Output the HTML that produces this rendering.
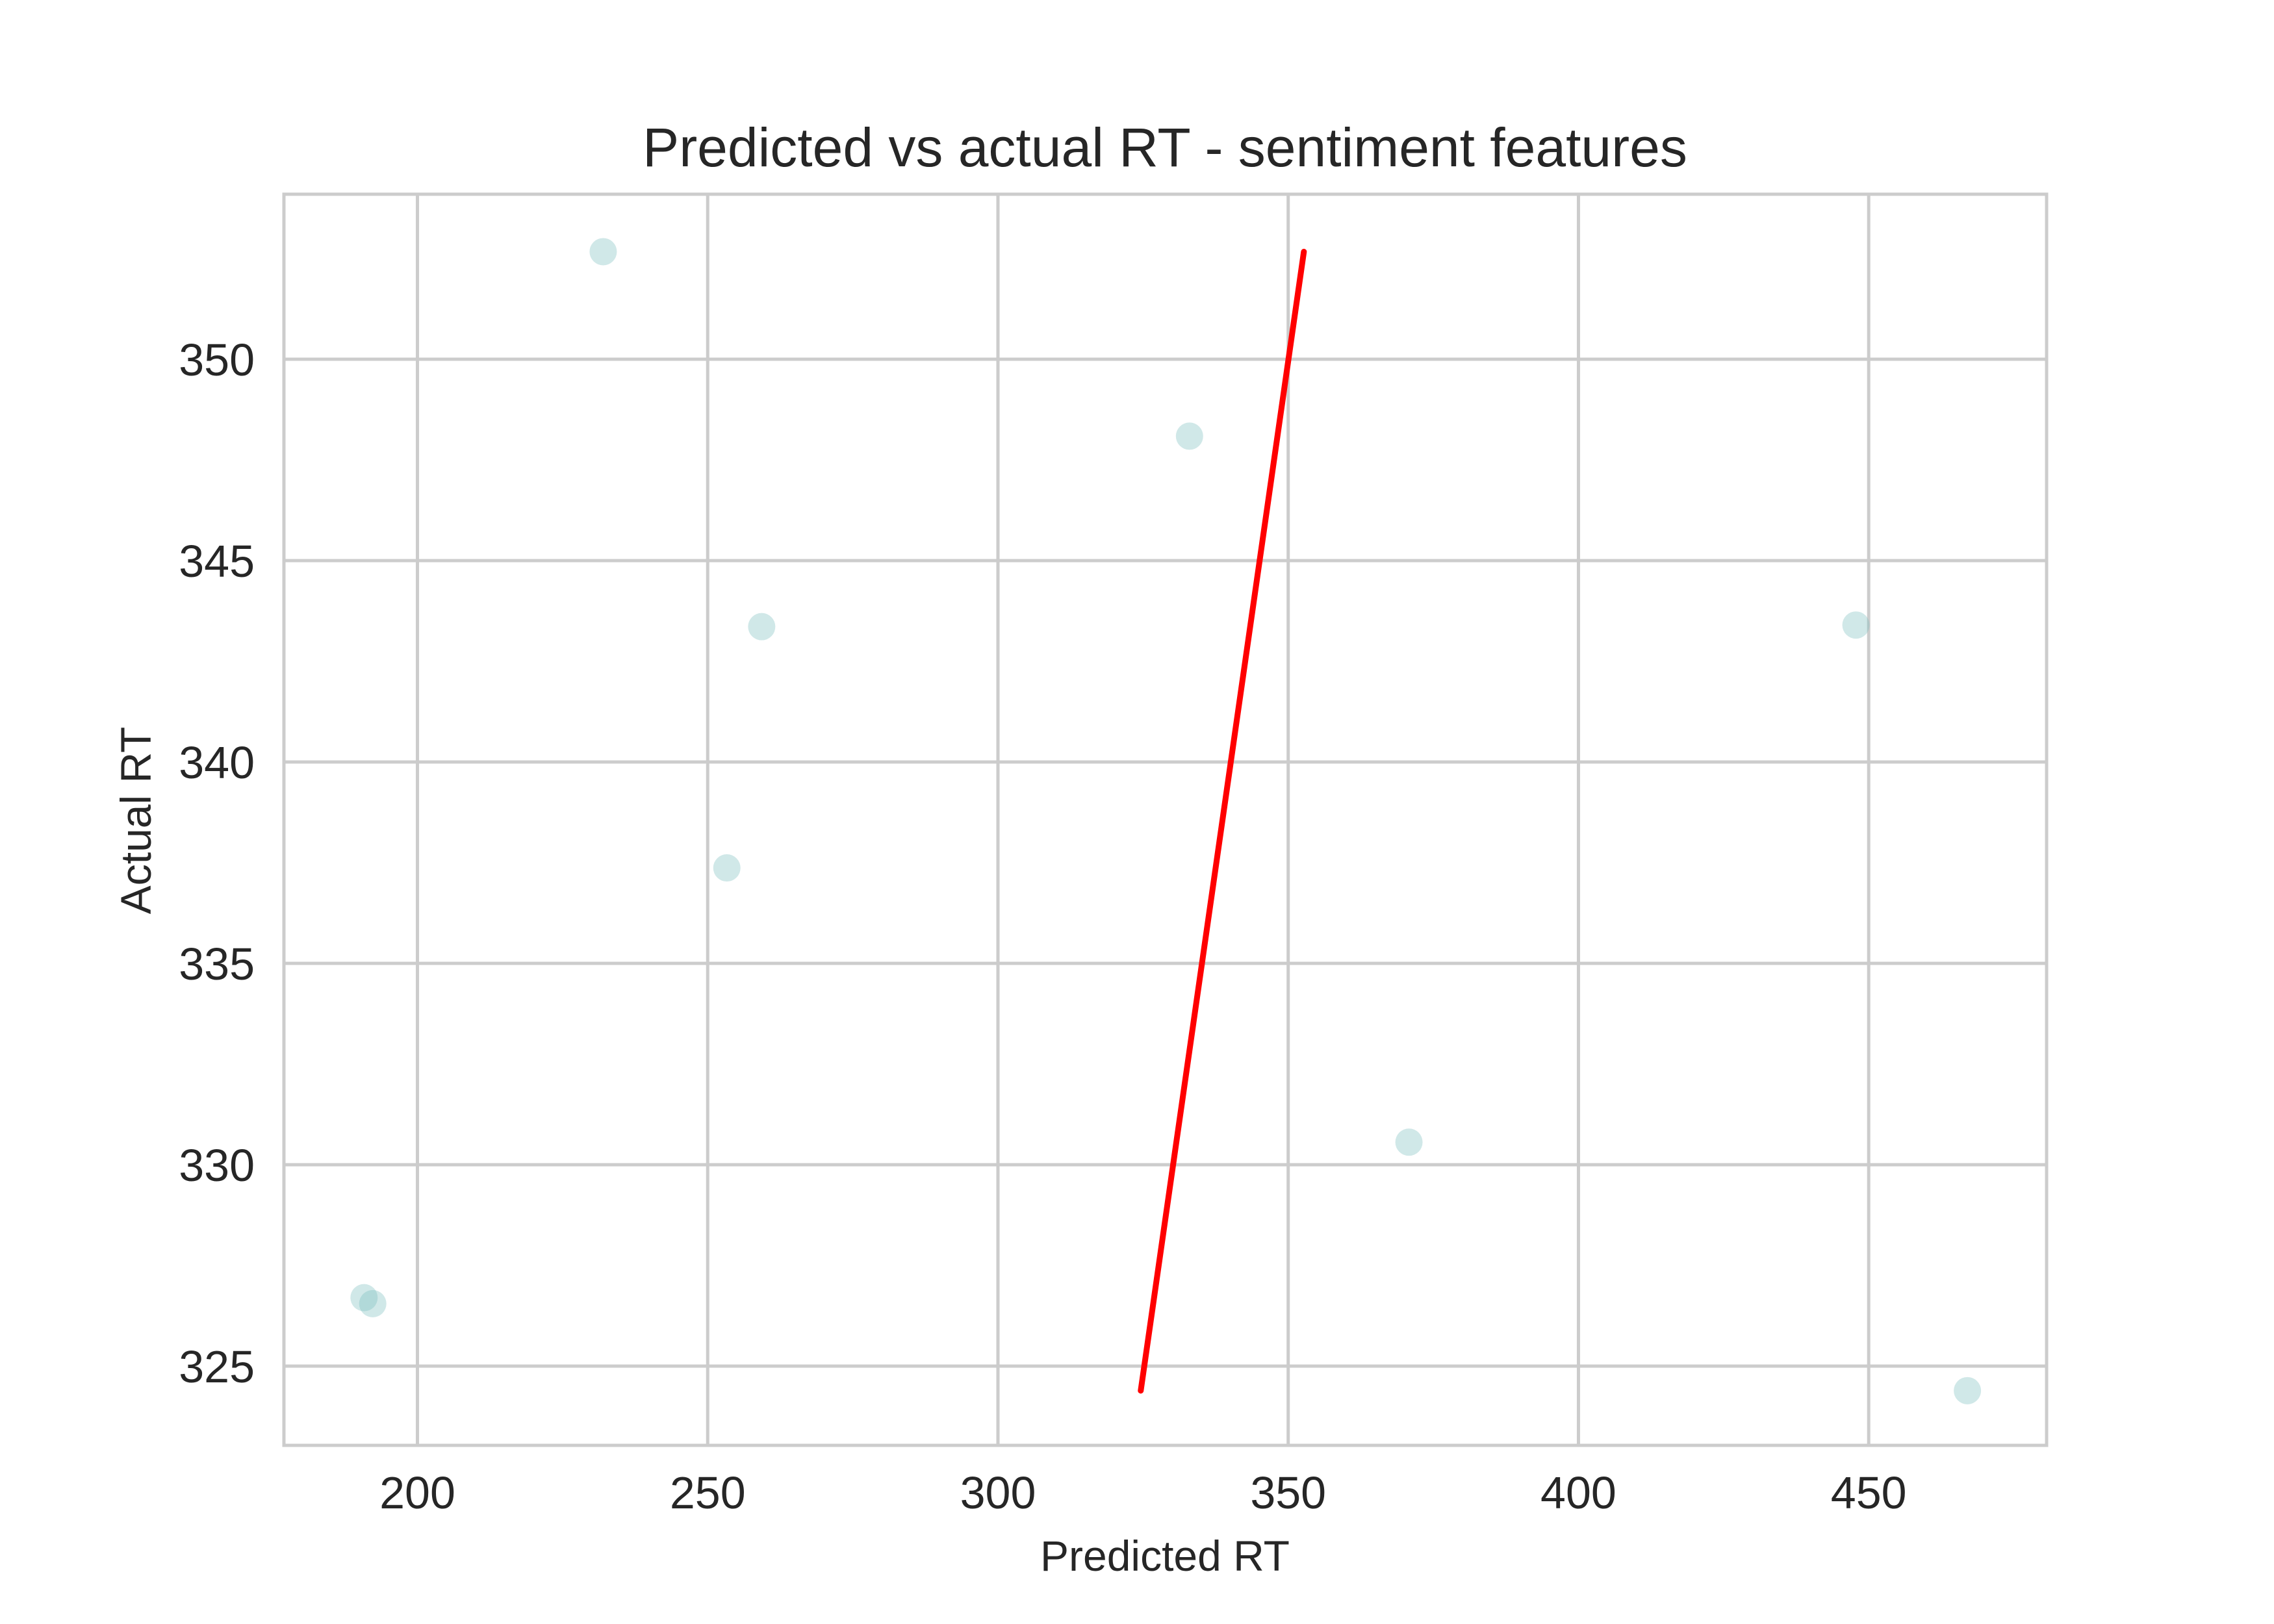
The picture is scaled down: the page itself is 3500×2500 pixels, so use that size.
<!DOCTYPE html>
<html><head><meta charset="utf-8"><style>
html,body{margin:0;padding:0;background:#fff;}
svg{display:block;font-family:"Liberation Sans",Arial,sans-serif;}
</style></head><body>
<svg id="chart" width="3500" height="2500" viewBox="0 0 3500 2500">
<rect x="0" y="0" width="3500" height="2500" fill="#fff"/>
<g id="grid"></g>
<g id="spines"></g>
<g id="ticks"></g>
<g id="marks"></g>
<g id="fit"></g>
<text x="1793" y="256" text-anchor="middle" font-size="84" fill="#262626">Predicted vs actual RT - sentiment features</text>
<text x="1793" y="2418" text-anchor="middle" font-size="66" fill="#262626">Predicted RT</text>
<text x="0" y="0" transform="translate(232,1263) rotate(-90)" text-anchor="middle" font-size="66" fill="#262626">Actual RT</text>
</svg>
<script>
const predicted = [232, 333, 259.3, 447.8, 253.3, 370.8, 190.8, 192.3, 467];
const actual = [352.67, 348.09, 343.36, 343.4, 337.37, 330.56, 326.7, 326.55, 324.39];
const lineX = [324.6, 352.7];
const lineY = [324.39, 352.67];
const xTicks = [200, 250, 300, 350, 400, 450];
const yTicks = [325, 330, 335, 340, 345, 350];

const L=437, R=3150, T=299, B=2225;
const xMin=177.0, xMax=200+(R-643)/8.933;
const yMin=350-(B-553)/62, yMax=350+(553-T)/62;
function sx(v){return L+(v-xMin)/(xMax-xMin)*(R-L);}
function sy(v){return B-(v-yMin)/(yMax-yMin)*(B-T);}
const NS="http://www.w3.org/2000/svg";
function mk(tag,attrs,parent){const e=document.createElementNS(NS,tag);for(const k in attrs)e.setAttribute(k,attrs[k]);parent.appendChild(e);return e;}
const grid=document.getElementById('grid'), ticks=document.getElementById('ticks');
xTicks.forEach(v=>{
  const l=mk('line',{x1:sx(v),x2:sx(v),y1:T,y2:B,stroke:'#cccccc','stroke-width':5},grid);
  
  
  const t=mk('text',{x:sx(v),y:2322,'text-anchor':'middle','font-size':70,fill:'#262626'},ticks);
  t.textContent=v;
  
  
});
yTicks.forEach(v=>{
  const l=mk('line',{x1:L,x2:R,y1:sy(v),y2:sy(v),stroke:'#cccccc','stroke-width':5},grid);
  
  
  const t=mk('text',{x:392,y:sy(v)+25,'text-anchor':'end','font-size':70,fill:'#262626'},ticks);
  t.textContent=v;
  
  
});
const fr=mk('rect',{x:L,y:T,width:R-L,height:B-T,fill:'none',stroke:'#cccccc','stroke-width':5},document.getElementById('spines'));


const marks=document.getElementById('marks');
predicted.forEach((p,i)=>{
  const c=mk('circle',{cx:sx(p),cy:sy(actual[i]),r:21,fill:'rgb(120,190,190)','fill-opacity':0.35},marks);
  
  
});
const ln=mk('line',{x1:sx(lineX[0]),y1:sy(lineY[0]),x2:sx(lineX[1]),y2:sy(lineY[1]),stroke:'#ff0000','stroke-width':9,'stroke-linecap':'round'},document.getElementById('fit'));


</script>
</body></html>
